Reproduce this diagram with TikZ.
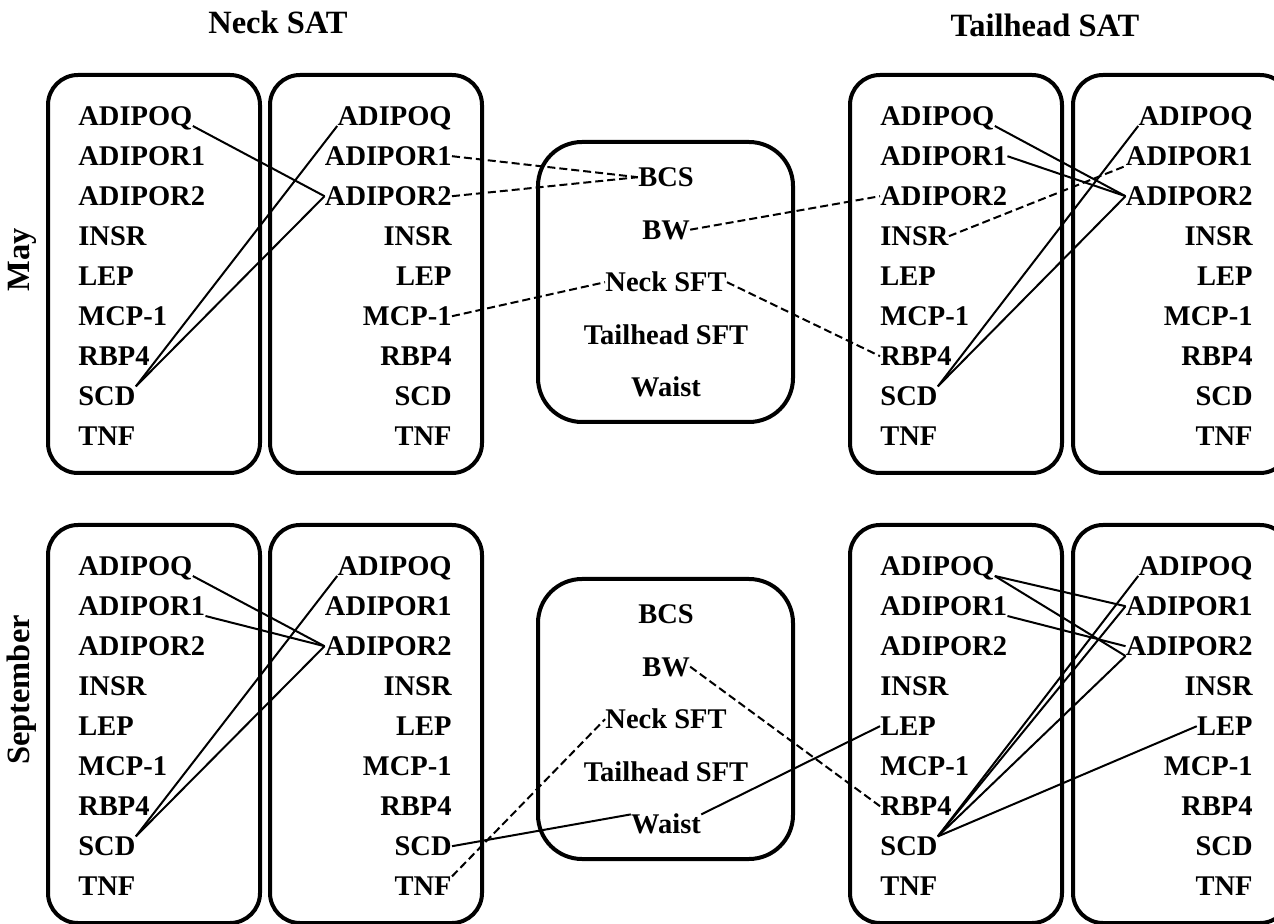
\documentclass[tikz,border=0pt]{standalone}
\usepackage{fontspec}
\setmainfont{Liberation Serif}
\begin{document}
\begin{tikzpicture}[x=0.5pt,y=-0.5pt,
  gene/.style={inner sep=0pt, text height=9.4pt, text depth=0pt, font=\fontsize{14.25pt}{16pt}\selectfont\bfseries},
  hdr/.style={inner sep=0pt, font=\fontsize{16.25pt}{18pt}\selectfont\bfseries},
  box/.style={line width=2pt, rounded corners=15pt},
  cbox/.style={line width=2pt, rounded corners=22pt},
  link/.style={line width=1pt},
  dlink/.style={line width=1pt, dash pattern=on 4pt off 2pt}]
\useasboundingbox (0,0) rectangle (1274,924);
\clip (0,0) rectangle (1274,924);

% headers
\node[hdr] (hneck) at (278,22) {Neck SAT};
\node[hdr] (htail) at (1045,25) {Tailhead SAT};
\node[hdr, rotate=90] (hmay) at (22,260) {May};
\node[hdr, rotate=90] (hsep) at (22,690) {September};

\foreach \r/\dy/\dc in {t/0/0, b/450/437} {
  % boxes
  \draw[box] (48,{75+\dy}) rectangle (260,{473+\dy});
  \draw[box] (270,{75+\dy}) rectangle (482,{473+\dy});
  \draw[box] (850,{75+\dy}) rectangle (1062,{473+\dy});
  \draw[box] (1073,{75+\dy}) rectangle (1290,{473+\dy});
  \draw[cbox] (538,{142+\dc}) rectangle (793,{422+\dc});
  % gene columns
  \foreach \g [count=\i from 0] in {ADIPOQ,ADIPOR1,ADIPOR2,INSR,LEP,MCP-1,RBP4,SCD,TNF} {
    \node[gene, anchor=south west] (\r-A-\i) at (78,{126+40*\i+\dy}) {\g};
    \node[gene, anchor=south east] (\r-B-\i) at (452,{126+40*\i+\dy}) {\g};
    \node[gene, anchor=south west] (\r-C-\i) at (880,{126+40*\i+\dy}) {\g};
    \node[gene, anchor=south east] (\r-D-\i) at (1253,{126+40*\i+\dy}) {\g};
  }
  % measures
  \foreach \m [count=\i from 0] in {BCS,BW,Neck SFT,Tailhead SFT,Waist} {
    \node[gene, anchor=south] (\r-M-\i) at (666,{187+52.5*\i+\dc}) {\m};
  }
}

% May connectors
\draw[link] (t-A-0.south east) -- (t-B-2.west);
\draw[link] (t-A-7.north east) -- (t-B-0.south west);
\draw[link] (t-A-7.north east) -- (t-B-2.west);
\draw[dlink] (t-B-1.east) -- (t-M-0.west);
\draw[dlink] (t-B-2.east) -- (t-M-0.west);
\draw[dlink] (t-B-5.east) -- (t-M-2.west);
\draw[dlink] (t-M-1.east) -- (t-C-2.west);
\draw[dlink] (t-M-2.east) -- (t-C-6.west);
\draw[dlink] (t-C-3.east) -- (t-D-1.south west);
\draw[link] (t-C-0.south east) -- (t-D-2.west);
\draw[link] (t-C-1.east) -- (t-D-2.west);
\draw[link] (t-C-7.north east) -- (t-D-0.south west);
\draw[link] (t-C-7.north east) -- (t-D-2.west);

% September connectors
\draw[link] (b-A-0.south east) -- (b-B-2.west);
\draw[link] (b-A-1.south east) -- (b-B-2.west);
\draw[link] (b-A-7.north east) -- (b-B-0.south west);
\draw[link] (b-A-7.north east) -- (b-B-2.west);
\draw[link] (b-B-7.east) -- (b-M-4.north west);
\draw[link] (b-M-4.north east) -- (b-C-4.west);
\draw[dlink] (b-B-8.north east) -- (b-M-2.west);
\draw[dlink] (b-M-1.east) -- (b-C-6.west);
\draw[link] (b-C-0.south east) -- (b-D-1.west);
\draw[link] (b-C-0.south east) -- (b-D-2.south west);
\draw[link] (b-C-1.south east) -- (b-D-2.west);
\draw[link] (b-C-7.north east) -- (b-D-0.south west);
\draw[link] (b-C-7.north east) -- (b-D-1.west);
\draw[link] (b-C-7.north east) -- (b-D-2.south west);
\draw[link] (b-C-7.north east) -- (b-D-4.west);
\end{tikzpicture}
\end{document}
